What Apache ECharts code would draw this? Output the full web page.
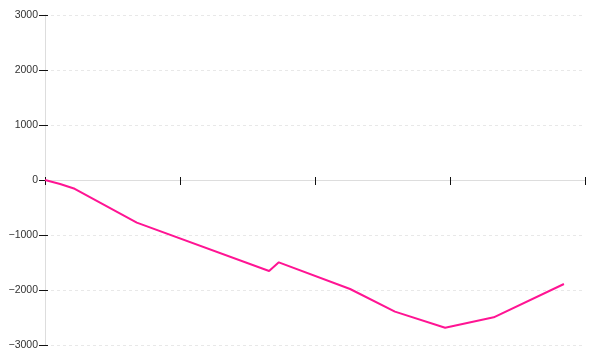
<!DOCTYPE html>
<html>
<head>
<meta charset="utf-8">
<script src="https://cdn.jsdelivr.net/npm/echarts@6/dist/echarts.min.js"></script>
<style>html,body{margin:0;padding:0;background:#fff;}#c{width:600px;height:360px;}</style>
</head>
<body>
<div id="c"></div>
<script>
const xValues = [0, 2.8, 5.5, 17.0, 41.5, 43.3, 56.5, 64.8, 74.1, 83.1, 96.1];
const yValues = [0, -73, -160, -776, -1655, -1497, -1982, -2394, -2685, -2497, -1891];
const yTicks = [-3000, -2000, -1000, 0, 1000, 2000, 3000];

const chart = echarts.init(document.getElementById('c'), null, {renderer: 'canvas'});
const pts = xValues.map((x, i) => [x, yValues[i]]);
const tickStyle = {color: '#111', width: 1};
chart.setOption({
  animation: false,
  grid: {left: 45, right: 15, top: 15, bottom: 15, containLabel: false},
  xAxis: [{
    type: 'value', min: 0, max: 100, interval: 25,
    axisLine: {onZero: true, lineStyle: {color: '#ddd', width: 1}},
    axisTick: {show: true, length: 5, lineStyle: tickStyle},
    axisLabel: {show: false},
    splitLine: {show: false}
  }, {
    type: 'value', min: 0, max: 100, interval: 25, position: 'bottom',
    axisLine: {show: false, onZero: true, onZeroAxisIndex: 0},
    axisTick: {show: true, inside: true, length: 3, lineStyle: tickStyle},
    axisLabel: {show: false},
    splitLine: {show: false}
  }],
  yAxis: [{
    type: 'value', min: yTicks[0], max: yTicks[yTicks.length - 1], interval: 1000,
    axisLine: {show: true, onZero: false, lineStyle: {color: '#ddd', width: 1}},
    axisTick: {show: true, length: 6, lineStyle: tickStyle},
    axisLabel: {margin: 7, color: '#333', fontSize: 10.5, fontFamily: 'Liberation Sans, Arial, sans-serif',
      formatter: v => (v < 0 ? '\u2212' + Math.abs(v) : String(v))},
    splitLine: {show: true, lineStyle: {color: '#e8e8e8', type: [3, 3], width: 1}}
  }, {
    type: 'value', min: yTicks[0], max: yTicks[yTicks.length - 1], interval: 1000, position: 'left',
    axisLine: {show: false, onZero: false},
    axisTick: {show: true, inside: true, length: 3, lineStyle: tickStyle},
    axisLabel: {show: false},
    splitLine: {show: false}
  }],
  series: [{
    type: 'line', data: pts, xAxisIndex: 0, yAxisIndex: 0,
    showSymbol: false, symbol: 'none',
    lineStyle: {color: '#ff1493', width: 2},
    itemStyle: {color: '#ff1493'}
  }]
});
</script>
</body>
</html>
